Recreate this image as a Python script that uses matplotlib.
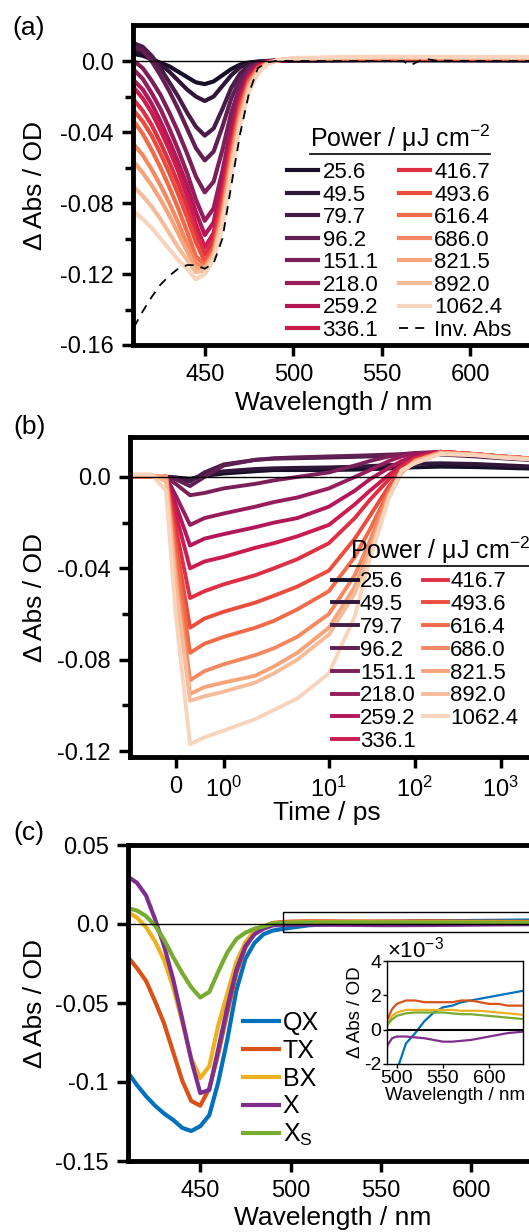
import numpy as np
import matplotlib
matplotlib.use("Agg")
import matplotlib.pyplot as plt
import seaborn as sns
from matplotlib.patches import Rectangle
from matplotlib.lines import Line2D
from matplotlib.ticker import FixedLocator, FixedFormatter, NullLocator

# ---------------------------------------------------------
# Data
# ---------------------------------------------------------
powers = ['25.6', '49.5', '79.7', '96.2', '151.1', '218.0', '259.2', '336.1',
          '416.7', '493.6', '616.4', '686.0', '821.5', '892.0', '1062.4']

# (a) transient spectra, Delta Abs vs wavelength
wl_a = [410, 415, 420, 425, 430, 435, 440, 445, 450, 455, 460, 465, 470, 475,
        480, 485, 490, 500, 550, 600, 700]
a_25_6 = [0.004, 0.003, 0.001, -0.001, -0.003, -0.006, -0.009, -0.012, -0.013, -0.0115, -0.008,
          -0.0045, -0.002, -0.0008, -0.0003, 0.0, 0.0002, 0.0003, 0.0005, 0.0004, 0.0003]
a_49_5 = [0.006, 0.005, 0.002, -0.002, -0.006, -0.011, -0.016, -0.020, -0.0225, -0.020, -0.014,
          -0.008, -0.0035, -0.0012, -0.0004, 0.0, 0.0002, 0.0003, 0.0006, 0.0005, 0.0004]
a_79_7 = [0.010, 0.008, 0.003, -0.004, -0.012, -0.020, -0.029, -0.037, -0.042, -0.038, -0.027,
          -0.015, -0.007, -0.0025, -0.0008, -0.0002, 0.0002, 0.0004, 0.0007, 0.0006, 0.0005]
a_96_2 = [0.008, 0.006, 0.000, -0.008, -0.017, -0.027, -0.038, -0.049, -0.056, -0.051, -0.037,
          -0.021, -0.010, -0.004, -0.0012, -0.0003, 0.0002, 0.0005, 0.0008, 0.0007, 0.0006]
a_151_1 = [0.000, -0.004, -0.011, -0.019, -0.029, -0.040, -0.052, -0.065, -0.074, -0.068, -0.050,
           -0.029, -0.014, -0.005, -0.0015, -0.0004, 0.0002, 0.0006, 0.0009, 0.0008, 0.0007]
a_218_0 = [-0.005, -0.010, -0.018, -0.027, -0.038, -0.050, -0.063, -0.078, -0.090, -0.083, -0.062,
           -0.037, -0.018, -0.007, -0.002, -0.0005, 0.0002, 0.0007, 0.001, 0.0009, 0.0008]
a_259_2 = [-0.011, -0.016, -0.024, -0.034, -0.045, -0.057, -0.070, -0.085, -0.098, -0.091, -0.068,
           -0.041, -0.020, -0.008, -0.0025, -0.0006, 0.0002, 0.0008, 0.0011, 0.001, 0.0009]
a_336_1 = [-0.015, -0.021, -0.029, -0.039, -0.050, -0.062, -0.076, -0.092, -0.105, -0.097, -0.073,
           -0.045, -0.022, -0.009, -0.003, -0.0007, 0.0002, 0.0009, 0.0012, 0.0011, 0.001]
a_416_7 = [-0.022, -0.028, -0.036, -0.046, -0.057, -0.069, -0.082, -0.097, -0.109, -0.101, -0.077,
           -0.048, -0.024, -0.010, -0.0035, -0.0008, 0.0002, 0.001, 0.0013, 0.0012, 0.0011]
a_493_6 = [-0.028, -0.034, -0.042, -0.052, -0.063, -0.075, -0.088, -0.102, -0.113, -0.105, -0.081,
           -0.051, -0.026, -0.011, -0.004, -0.001, 0.0002, 0.0011, 0.0014, 0.0013, 0.0012]
a_616_4 = [-0.034, -0.041, -0.050, -0.060, -0.071, -0.083, -0.096, -0.110, -0.115, -0.107, -0.084,
           -0.054, -0.028, -0.012, -0.0045, -0.0012, 0.0002, 0.0012, 0.0016, 0.0015, 0.0014]
a_686_0 = [-0.047, -0.053, -0.061, -0.070, -0.080, -0.091, -0.103, -0.114, -0.116, -0.108, -0.086,
           -0.056, -0.030, -0.013, -0.005, -0.0014, 0.0002, 0.0013, 0.0018, 0.0017, 0.0016]
a_821_5 = [-0.057, -0.063, -0.070, -0.078, -0.087, -0.097, -0.107, -0.117, -0.117, -0.109, -0.088,
           -0.058, -0.032, -0.014, -0.0055, -0.0016, 0.0002, 0.0014, 0.002, 0.0019, 0.0018]
a_892_0 = [-0.071, -0.076, -0.082, -0.089, -0.097, -0.105, -0.112, -0.119, -0.118, -0.110, -0.090,
           -0.060, -0.034, -0.015, -0.006, -0.0018, 0.0002, 0.0015, 0.0022, 0.002, 0.0019]
a_1062_4 = [-0.085, -0.089, -0.094, -0.100, -0.106, -0.112, -0.117, -0.123, -0.120, -0.112, -0.093,
            -0.063, -0.036, -0.017, -0.007, -0.002, 0.0002, 0.0017, 0.0025, 0.0023, 0.0021]

# inverted ground-state absorption (dashed)
wl_inv = [410, 415, 420, 425, 430, 435, 440, 445, 450, 455, 460, 465, 470, 475, 480, 485,
          490, 500, 550, 562, 566, 569, 572, 575, 580, 600, 640, 700]
inv_abs = [-0.150, -0.141, -0.133, -0.126, -0.121, -0.117, -0.115, -0.115, -0.117, -0.114,
           -0.100, -0.070, -0.041, -0.018, -0.004, -0.0008, 0.0, 0.0, 0.0, 0.0, -0.0025,
           -0.001, 0.0005, 0.0012, 0.0003, 0.0, 0.0, 0.0]

# (b) kinetics, Delta Abs vs time
t_b = [-1, -0.5, -0.2, 0.0, 0.3, 0.6, 1, 2, 3, 5, 10, 20, 30, 50, 70, 100, 200, 500,
       1000, 2000, 5000]
k_25_6 = [0, 0, 0, -0.0002, -0.0008, 0.0005, 0.0015, 0.0025, 0.003, 0.003, 0.003, 0.0032,
          0.0034, 0.0037, 0.004, 0.0042, 0.0045, 0.0043, 0.004, 0.0037, 0.0033]
k_49_5 = [0, 0, 0, -0.0003, -0.0012, 0.001, 0.0025, 0.0035, 0.0038, 0.004, 0.0042, 0.0045,
          0.0048, 0.0052, 0.0055, 0.0058, 0.006, 0.0057, 0.0052, 0.0047, 0.0042]
k_79_7 = [0, 0, 0, -0.0005, -0.002, 0.002, 0.0055, 0.0075, 0.008, 0.0082, 0.0085, 0.0088,
          0.009, 0.0093, 0.0095, 0.0097, 0.0098, 0.009, 0.0082, 0.0075, 0.0068]
k_96_2 = [0, 0, 0, -0.001, -0.004, 0.0, 0.005, 0.0075, 0.0082, 0.0086, 0.009, 0.0093,
          0.0095, 0.0098, 0.010, 0.0102, 0.0103, 0.0095, 0.0087, 0.008, 0.0072]
k_151_1 = [0, 0, 0, -0.003, -0.008, -0.007, -0.005, -0.003, -0.0015, 0.0, 0.002, 0.005,
           0.007, 0.009, 0.010, 0.0105, 0.011, 0.0098, 0.009, 0.0082, 0.0074]
k_218_0 = [0, 0, 0, -0.008, -0.021, -0.018, -0.016, -0.013, -0.011, -0.009, -0.005, 0.0,
           0.003, 0.007, 0.009, 0.010, 0.011, 0.010, 0.009, 0.0082, 0.0074]
k_259_2 = [0, 0, 0, -0.012, -0.030, -0.027, -0.025, -0.022, -0.020, -0.018, -0.013, -0.006,
           -0.001, 0.004, 0.007, 0.009, 0.011, 0.010, 0.009, 0.0082, 0.0074]
k_336_1 = [0, 0, 0, -0.016, -0.040, -0.037, -0.035, -0.031, -0.029, -0.026, -0.021, -0.012,
           -0.006, 0.001, 0.005, 0.008, 0.011, 0.010, 0.009, 0.0082, 0.0074]
k_416_7 = [0, 0, 0, -0.022, -0.053, -0.050, -0.047, -0.043, -0.040, -0.036, -0.029, -0.018,
           -0.010, -0.001, 0.004, 0.008, 0.011, 0.010, 0.009, 0.0082, 0.0074]
k_493_6 = [0, 0, 0, -0.028, -0.066, -0.062, -0.059, -0.055, -0.052, -0.048, -0.041, -0.027,
           -0.017, -0.004, 0.003, 0.007, 0.011, 0.010, 0.009, 0.0082, 0.0074]
k_616_4 = [0, 0, 0, -0.033, -0.077, -0.073, -0.070, -0.066, -0.063, -0.058, -0.050, -0.035,
           -0.023, -0.006, 0.002, 0.007, 0.0108, 0.010, 0.009, 0.0082, 0.0074]
k_686_0 = [0, 0, 0.0005, -0.040, -0.089, -0.085, -0.082, -0.078, -0.075, -0.070, -0.060, -0.043,
           -0.028, -0.007, 0.002, 0.007, 0.0106, 0.010, 0.009, 0.0082, 0.0074]
k_821_5 = [0.0005, 0.0005, 0.0, -0.045, -0.095, -0.092, -0.090, -0.087, -0.083, -0.077, -0.066,
           -0.048, -0.032, -0.008, 0.002, 0.007, 0.0105, 0.0098, 0.0088, 0.008, 0.0072]
k_892_0 = [0.001, 0.001, -0.002, -0.048, -0.098, -0.096, -0.094, -0.090, -0.086, -0.080, -0.069,
           -0.051, -0.034, -0.009, 0.002, 0.0065, 0.0104, 0.0097, 0.0087, 0.0079, 0.0071]
k_1062_4 = [0.001, 0.001, -0.006, -0.060, -0.117, -0.114, -0.111, -0.106, -0.102, -0.097, -0.086,
            -0.061, -0.036, -0.009, 0.003, 0.006, 0.010, 0.0095, 0.0085, 0.0078, 0.007]

# (c) component spectra
wl_c = [410, 415, 420, 425, 430, 435, 440, 445, 450, 455, 460, 465, 470, 475, 480, 485, 490,
        495, 500, 510, 520, 530, 540, 550, 560, 570, 580, 590, 600, 610, 620, 630, 640, 650]
qx = [-0.094, -0.102, -0.109, -0.115, -0.120, -0.124, -0.129, -0.131, -0.128, -0.121, -0.100,
      -0.073, -0.042, -0.022, -0.012, -0.0065, -0.0042, -0.0032, -0.0024, -0.0008, -0.0002,
      0.0005, 0.001, 0.0013, 0.0014, 0.0016, 0.0017, 0.0018, 0.0019, 0.002, 0.0021, 0.0022,
      0.0023, 0.0024]
tx = [-0.021, -0.028, -0.036, -0.049, -0.063, -0.081, -0.099, -0.112, -0.115, -0.104, -0.082,
      -0.056, -0.031, -0.015, -0.0055, -0.002, 0.0006, 0.0012, 0.0015, 0.0017, 0.0017, 0.0016,
      0.0016, 0.0016, 0.0016, 0.0017, 0.0017, 0.0016, 0.0015, 0.0015, 0.0014, 0.0014, 0.0014,
      0.0013]
bx = [0.0075, 0.004, -0.002, -0.011, -0.023, -0.040, -0.062, -0.085, -0.0975, -0.090, -0.064,
      -0.044, -0.024, -0.0115, -0.0045, -0.0015, 0.0004, 0.0008, 0.001, 0.00115, 0.00115,
      0.00115, 0.00115, 0.00115, 0.00115, 0.0011, 0.0011, 0.0011, 0.00105, 0.001, 0.00095,
      0.0009, 0.00085, 0.0008]
x_exc = [0.030, 0.026, 0.018, 0.003, -0.014, -0.035, -0.060, -0.086, -0.107, -0.105, -0.079,
         -0.0525, -0.029, -0.014, -0.0065, -0.003, -0.0009, -0.0005, -0.0004, -0.0004,
         -0.00045, -0.0005, -0.0006, -0.0007, -0.0007, -0.00065, -0.0006, -0.0005, -0.0004,
         -0.0003, -0.0002, -0.00015, -0.0001, -0.0001]
xs = [0.010, 0.0085, 0.005, -0.001, -0.010, -0.021, -0.031, -0.040, -0.0465, -0.043, -0.030,
      -0.018, -0.0095, -0.0055, -0.003, -0.0015, 0.0003, 0.0006, 0.0008, 0.00095, 0.001,
      0.001, 0.001, 0.001, 0.00095, 0.0009, 0.0009, 0.00085, 0.0008, 0.00075, 0.0007,
      0.00065, 0.0006, 0.0006]
comp_labels = ['QX', 'TX', 'BX', 'X', 'X$_{\\mathrm{S}}$']
comp_colors = ['#0072BD', '#D95319', '#EDB120', '#7E2F8E', '#77AC30']

# ---------------------------------------------------------
# Style
# ---------------------------------------------------------
plt.rcParams['font.family'] = ['Liberation Sans', 'DejaVu Sans']
plt.rcParams['mathtext.fontset'] = 'custom'
plt.rcParams['mathtext.rm'] = 'Liberation Sans'
plt.rcParams['mathtext.it'] = 'Liberation Sans:italic'
plt.rcParams['axes.unicode_minus'] = False

W, H = 529, 1232
fig = plt.figure(figsize=(W / 100, H / 100), dpi=100)

colors = sns.color_palette('rocket', len(powers))
spectra_a = [a_25_6, a_49_5, a_79_7, a_96_2, a_151_1, a_218_0, a_259_2, a_336_1,
             a_416_7, a_493_6, a_616_4, a_686_0, a_821_5, a_892_0, a_1062_4]
kinetics_b = [k_25_6, k_49_5, k_79_7, k_96_2, k_151_1, k_218_0, k_259_2, k_336_1,
              k_416_7, k_493_6, k_616_4, k_686_0, k_821_5, k_892_0, k_1062_4]
components = [qx, tx, bx, x_exc, xs]

TICK = 17
LAB = 19
LEG = 16


def px_axes(left, top, right, bottom):
    return fig.add_axes([left / W, 1 - bottom / H, (right - left) / W, (bottom - top) / H])


def style_axes(ax, lw=3.5, size=TICK):
    for s in ax.spines.values():
        s.set_linewidth(lw)
    ax.tick_params(which='major', direction='out', length=8, width=2.5, labelsize=size, pad=6)
    ax.tick_params(which='minor', direction='out', length=6, width=2.5)


ylab = '\u0394 Abs / OD'
title_pow = 'Power / \u03bcJ cm$^{-2}$'

# ---------------------------------------------------------
# (a) spectra at different powers
# ---------------------------------------------------------
ax_a = px_axes(133, 25, 559, 345)
for spec, c, p in zip(spectra_a, colors, powers):
    ax_a.plot(wl_a, spec, color=c, lw=3, label=p)
ax_a.axhline(0, color='k', lw=1, zorder=5)
ax_a.plot(wl_inv, inv_abs, color='k', lw=1.3, ls=(0, (5, 4)), label='Inv. Abs', zorder=6)
ax_a.set_xlim(409.5, 650)
ax_a.set_ylim(-0.16, 0.0203)
ax_a.xaxis.set_major_locator(FixedLocator([450, 500, 550, 600]))
ax_a.yaxis.set_major_locator(FixedLocator([0, -0.04, -0.08, -0.12, -0.16]))
ax_a.yaxis.set_major_formatter(FixedFormatter(['0.0', '-0.04', '-0.08', '-0.12', '-0.16']))
ax_a.yaxis.set_minor_locator(FixedLocator([-0.02, -0.06, -0.1, -0.14]))
style_axes(ax_a)
ax_a.set_xlabel('Wavelength / nm', fontsize=LAB)
ax_a.set_ylabel(ylab, fontsize=LAB)
ax_a.xaxis.set_label_coords(0.47, -0.181)
ax_a.xaxis.label.set_va('center')
ax_a.yaxis.set_label_coords(-0.23, 0.5)
ax_a.yaxis.label.set_va('center')
ax_a.legend(ncol=2, loc='upper left', bbox_to_anchor=(0.3615, 0.572), frameon=False,
            fontsize=LEG, handlelength=1.4, handletextpad=0.2, labelspacing=0.07,
            columnspacing=0.9, borderpad=0, borderaxespad=0)
ax_a.text(0.4155, 0.647, title_pow, transform=ax_a.transAxes, fontsize=18, ha='left', va='center')

# ---------------------------------------------------------
# (b) kinetics, linear-log time axis
# ---------------------------------------------------------
log_knots = [0, 1, 2, 3, 5]
pos_knots = [1.0, 3.19, 4.98, 6.77, 10.35]


def fwd(t):
    t = np.asarray(t, dtype=float)
    return np.where(t > 1, np.interp(np.log10(np.maximum(t, 1)), log_knots, pos_knots), t)


def inv(p):
    p = np.asarray(p, dtype=float)
    return np.where(p > 1, 10 ** np.interp(p, pos_knots, log_knots), p)


ax_b = px_axes(130, 437, 560, 757)
ax_b.set_xscale('function', functions=(fwd, inv))
for kin, c, p in zip(kinetics_b, colors, powers):
    ax_b.plot(t_b, kin, color=c, lw=2.8, label=p)
ax_b.axhline(0, color='k', lw=1, zorder=5)
ax_b.set_xlim(-0.95, 4870)
ax_b.set_ylim(-0.1226, 0.0175)
ax_b.xaxis.set_major_locator(FixedLocator([0, 1, 10, 100, 1000]))
ax_b.xaxis.set_major_formatter(FixedFormatter(['0', '$10^{0}$', '$10^{1}$', '$10^{2}$', '$10^{3}$']))
ax_b.xaxis.set_minor_locator(NullLocator())
ax_b.yaxis.set_major_locator(FixedLocator([0, -0.04, -0.08, -0.12]))
ax_b.yaxis.set_major_formatter(FixedFormatter(['0.0', '-0.04', '-0.08', '-0.12']))
ax_b.yaxis.set_minor_locator(FixedLocator([-0.02, -0.06, -0.1]))
style_axes(ax_b)
ax_b.set_xlabel('Time / ps', fontsize=LAB)
ax_b.set_ylabel(ylab, fontsize=LAB)
ax_b.xaxis.set_label_coords(0.458, -0.175)
ax_b.xaxis.label.set_va('center')
ax_b.yaxis.set_label_coords(-0.221, 0.5)
ax_b.yaxis.label.set_va('center')
ax_b.legend(ncol=2, loc='upper left', bbox_to_anchor=(0.47, 0.58), frameon=False,
            fontsize=LEG, handlelength=1.15, handletextpad=0.1, labelspacing=0.08,
            columnspacing=0.3, borderpad=0, borderaxespad=0)
ax_b.text(0.5116, 0.647, title_pow, transform=ax_b.transAxes, fontsize=18, ha='left', va='center')

# ---------------------------------------------------------
# (c) component spectra with inset
# ---------------------------------------------------------
ax_c = px_axes(128, 845, 561.5, 1161)
for comp, c, lab in zip(components, comp_colors, comp_labels):
    ax_c.plot(wl_c, comp, color=c, lw=3, label=lab)
ax_c.axhline(0, color='k', lw=1, zorder=5)
ax_c.add_patch(Rectangle((496, -0.0051), 200, 0.0127, fill=False, ec='k', lw=1, zorder=6))
ax_c.set_xlim(410, 650)
ax_c.set_ylim(-0.15, 0.05)
ax_c.xaxis.set_major_locator(FixedLocator([450, 500, 550, 600]))
ax_c.yaxis.set_major_locator(FixedLocator([0.05, 0, -0.05, -0.1, -0.15]))
ax_c.yaxis.set_major_formatter(FixedFormatter(['0.05', '0.0', '-0.05', '-0.1', '-0.15']))
style_axes(ax_c)
ax_c.set_xlabel('Wavelength / nm', fontsize=LAB)
ax_c.set_ylabel(ylab, fontsize=LAB)
ax_c.xaxis.set_label_coords(0.472, -0.18)
ax_c.xaxis.label.set_va('center')
ax_c.yaxis.set_label_coords(-0.215, 0.5)
ax_c.yaxis.label.set_va('center')
ax_c.legend(loc='upper left', bbox_to_anchor=(0.265, 0.474), frameon=False, fontsize=18,
            handlelength=1.45, handletextpad=0.15, labelspacing=0.15, borderpad=0, borderaxespad=0)

ax_in = px_axes(387, 961, 523, 1064)
for comp, c in zip(components, comp_colors):
    ax_in.plot(wl_c, np.array(comp) * 1000, color=c, lw=1.6)
ax_in.axhline(0, color='k', lw=1.5)
ax_in.set_xlim(489.5, 636.5)
ax_in.set_ylim(-2, 4)
ax_in.xaxis.set_major_locator(FixedLocator([500, 550, 600]))
ax_in.yaxis.set_major_locator(FixedLocator([-2, 0, 2, 4]))
for s in ax_in.spines.values():
    s.set_linewidth(1)
ax_in.tick_params(direction='out', length=3, width=1, labelsize=14, pad=1)
ax_in.set_xlabel('Wavelength / nm', fontsize=13.5, labelpad=0)
ax_in.set_ylabel(ylab, fontsize=13.5, labelpad=0)
ax_in.text(0.0, 0.99, '\u00d710$^{-3}$', transform=ax_in.transAxes, fontsize=16,
           ha='left', va='bottom')

# panel letters
fig.text(29 / W, 1 - 28 / H, '(a)', fontsize=19, ha='center', va='center')
fig.text(30 / W, 1 - 427 / H, '(b)', fontsize=19, ha='center', va='center')
fig.text(29 / W, 1 - 833 / H, '(c)', fontsize=19, ha='center', va='center')

# underline the legend titles
fig.canvas.draw()
rend = fig.canvas.get_renderer()
for ax in (ax_a, ax_b):
    t = ax.texts[-1]
    bb = t.get_window_extent(rend).transformed(fig.transFigure.inverted())
    fig.add_artist(Line2D([bb.x0, bb.x1], [bb.y0, bb.y0], transform=fig.transFigure,
                          color='k', lw=1.2))

fig.savefig('out.png', dpi=100)
plt.close(fig)
